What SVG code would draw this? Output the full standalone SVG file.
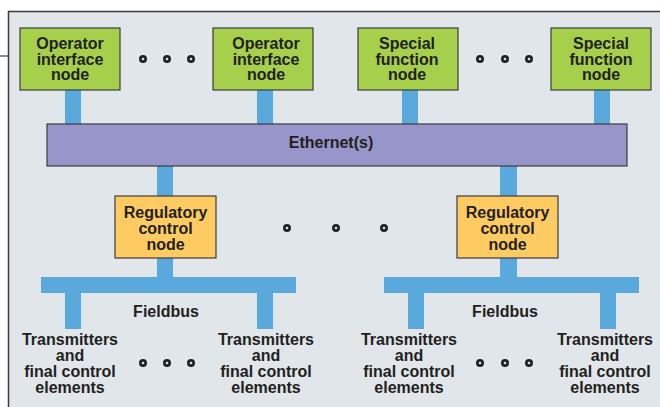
<svg xmlns="http://www.w3.org/2000/svg" width="660" height="407" viewBox="0 0 660 407">
<defs>
<style>
.t{font-family:"Liberation Sans",Arial,sans-serif;font-weight:bold;font-size:16px;fill:#231f20;text-anchor:middle}
.green{fill:#a6cf4c;stroke:#3d3d3d;stroke-width:1.2}
.orange{fill:#fecb63;stroke:#3d3d3d;stroke-width:1.2}
.bus{fill:#5aa9dc}
.dot{fill:#1f2328}
.dc{fill:#dfe3e6}
</style>
</defs>
<rect width="660" height="407" fill="#ffffff"/>
<g id="panel">
<rect x="8.5" y="11.5" width="660" height="400" fill="#e1e6ea" stroke="#3b3b3b" stroke-width="1.5"/>
<line x1="0" y1="56" x2="8" y2="56" stroke="#3b3b3b" stroke-width="1.2"/>
</g>
<g id="connectors">
<rect class="bus" x="65" y="90" width="16" height="35"/>
<rect class="bus" x="257" y="90" width="16" height="35"/>
<rect class="bus" x="402" y="90" width="16" height="35"/>
<rect class="bus" x="594" y="90" width="16" height="35"/>
<rect class="bus" x="157" y="165" width="16" height="113"/>
<rect class="bus" x="500" y="165" width="17" height="113"/>
<rect class="bus" x="41" y="277" width="255" height="16"/>
<rect class="bus" x="384" y="277" width="255" height="16"/>
<rect class="bus" x="65" y="292" width="16" height="37"/>
<rect class="bus" x="257" y="292" width="16" height="37"/>
<rect class="bus" x="408" y="292" width="16" height="37"/>
<rect class="bus" x="600" y="292" width="16" height="37"/>
</g>
<g id="ethernet">
<rect x="47" y="124" width="580" height="42" fill="#9795c9" stroke="#3d3d3d" stroke-width="1.2"/>
<text class="t" x="331" y="148">Ethernet(s)</text>
</g>
<g id="op1">
<rect class="green" x="20" y="28" width="100" height="62"/>
<text class="t" x="70" y="49">Operator</text>
<text class="t" x="70" y="64.5">interface</text>
<text class="t" x="70" y="80">node</text>
</g>
<g id="op2">
<rect class="green" x="213" y="28" width="100" height="62"/>
<text class="t" x="266" y="49">Operator</text>
<text class="t" x="266" y="64.5">interface</text>
<text class="t" x="266" y="80">node</text>
</g>
<g id="sf1">
<rect class="green" x="358" y="28" width="100" height="62"/>
<text class="t" x="407" y="49">Special</text>
<text class="t" x="407" y="64.5">function</text>
<text class="t" x="407" y="80">node</text>
</g>
<g id="sf2">
<rect class="green" x="551" y="28" width="100" height="62"/>
<text class="t" x="601" y="49">Special</text>
<text class="t" x="601" y="64.5">function</text>
<text class="t" x="601" y="80">node</text>
</g>
<g id="rc1">
<rect class="orange" x="115" y="196" width="101" height="62"/>
<text class="t" x="165.5" y="218">Regulatory</text>
<text class="t" x="165.5" y="234">control</text>
<text class="t" x="165.5" y="250">node</text>
</g>
<g id="rc2">
<rect class="orange" x="457" y="196" width="101" height="62"/>
<text class="t" x="507.5" y="218">Regulatory</text>
<text class="t" x="507.5" y="234">control</text>
<text class="t" x="507.5" y="250">node</text>
</g>
<g id="fieldbus-labels">
<text class="t" x="166" y="317">Fieldbus</text>
<text class="t" x="505" y="317">Fieldbus</text>
</g>
<g id="tx1">
<text class="t" x="70" y="345">Transmitters</text>
<text class="t" x="70" y="361">and</text>
<text class="t" x="70" y="377">final control</text>
<text class="t" x="70" y="393">elements</text>
</g>
<g id="tx2">
<text class="t" x="266" y="345">Transmitters</text>
<text class="t" x="266" y="361">and</text>
<text class="t" x="266" y="377">final control</text>
<text class="t" x="266" y="393">elements</text>
</g>
<g id="tx3">
<text class="t" x="409" y="345">Transmitters</text>
<text class="t" x="409" y="361">and</text>
<text class="t" x="409" y="377">final control</text>
<text class="t" x="409" y="393">elements</text>
</g>
<g id="tx4">
<text class="t" x="605" y="345">Transmitters</text>
<text class="t" x="605" y="361">and</text>
<text class="t" x="605" y="377">final control</text>
<text class="t" x="605" y="393">elements</text>
</g>
<g id="ellipses">
<g class="dot"><circle cx="143" cy="59" r="4"/><circle cx="167" cy="59" r="4"/><circle cx="191" cy="59" r="4"/>
<circle cx="480" cy="59" r="4"/><circle cx="505" cy="59" r="4"/><circle cx="529" cy="59" r="4"/>
<circle cx="287" cy="228" r="4"/><circle cx="336" cy="228" r="4"/><circle cx="384" cy="228" r="4"/>
<circle cx="143" cy="363" r="4"/><circle cx="167" cy="363" r="4"/><circle cx="191" cy="363" r="4"/>
<circle cx="480" cy="363" r="4"/><circle cx="505" cy="363" r="4"/><circle cx="529" cy="363" r="4"/></g>
<g class="dc"><circle cx="143" cy="59" r="1.3"/><circle cx="167" cy="59" r="1.3"/><circle cx="191" cy="59" r="1.3"/>
<circle cx="480" cy="59" r="1.3"/><circle cx="505" cy="59" r="1.3"/><circle cx="529" cy="59" r="1.3"/>
<circle cx="287" cy="228" r="1.3"/><circle cx="336" cy="228" r="1.3"/><circle cx="384" cy="228" r="1.3"/>
<circle cx="143" cy="363" r="1.3"/><circle cx="167" cy="363" r="1.3"/><circle cx="191" cy="363" r="1.3"/>
<circle cx="480" cy="363" r="1.3"/><circle cx="505" cy="363" r="1.3"/><circle cx="529" cy="363" r="1.3"/></g>
</g>
</svg>
